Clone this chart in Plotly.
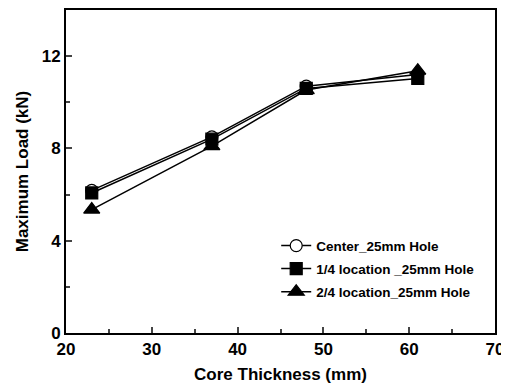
import plotly.graph_objects as go

thickness = [23, 37, 48, 61]
center = [6.18, 8.5, 10.7, 11.2]
quarter = [6.07, 8.4, 10.6, 11.03]
half = [5.35, 8.1, 10.53, 11.37]

names = ["Center_25mm Hole", "1/4 location _25mm Hole", "2/4 location_25mm Hole"]
series = [center, quarter, half]
symbols = ["circle-open", "square", "triangle-up"]
sizes = [12, 12, 14]

fig = go.Figure()
for i, (n, s, sym, sz) in enumerate(zip(names, series, symbols, sizes)):
    marker = dict(symbol=sym, size=sz, color="black", line=dict(color="black", width=1.2))
    if sym == "circle-open":
        marker = dict(symbol="circle", size=sz, color="white", line=dict(color="black", width=1.2))
    fig.add_trace(go.Scatter(x=thickness, y=s, name=n, mode="lines+markers", legendgroup=f"g{i}",
                             line=dict(color="black", width=1.5), marker=marker))

font = "Liberation Sans, Arial, sans-serif"
# page body has an 8px margin, so the figure is sized/offset to compensate
fig.update_layout(
    width=501, height=377,
    margin=dict(l=58, r=14, t=2, b=52),
    paper_bgcolor="white", plot_bgcolor="white",
    font=dict(family=font, color="black"),
    showlegend=True,
    legend=dict(x=0.49, y=0.318, xanchor="left", yanchor="top",
                font=dict(family=font, size=13.5, color="black", weight="bold"),
                bgcolor="rgba(0,0,0,0)", tracegroupgap=2.5, itemsizing="trace"),
    xaxis=dict(range=[20, 70], tickvals=[20, 30, 40, 50, 60, 70], ticks="inside", ticklen=6,
               tickwidth=1.5, showline=True, linecolor="black", linewidth=2, mirror=True,
               showgrid=False, zeroline=False, automargin=False,
               tickfont=dict(size=17, weight="bold"),
               minor=dict(tickvals=[25, 35, 45, 55, 65], ticks="inside", ticklen=4, tickwidth=1.5),
               title=dict(text="Core Thickness (mm)", font=dict(size=17, weight="bold"), standoff=10)),
    yaxis=dict(range=[0, 14], tickvals=[0, 4, 8, 12], ticks="inside", ticklen=6,
               tickwidth=1.5, showline=True, linecolor="black", linewidth=2, mirror=True,
               showgrid=False, zeroline=False, automargin=False,
               tickfont=dict(size=17, weight="bold"),
               minor=dict(tickvals=[2, 6, 10], ticks="inside", ticklen=4, tickwidth=1.5),
               title=dict(text="Maximum Load (kN)", font=dict(size=17, weight="bold"), standoff=9)),
)
fig.write_html("out.html")
